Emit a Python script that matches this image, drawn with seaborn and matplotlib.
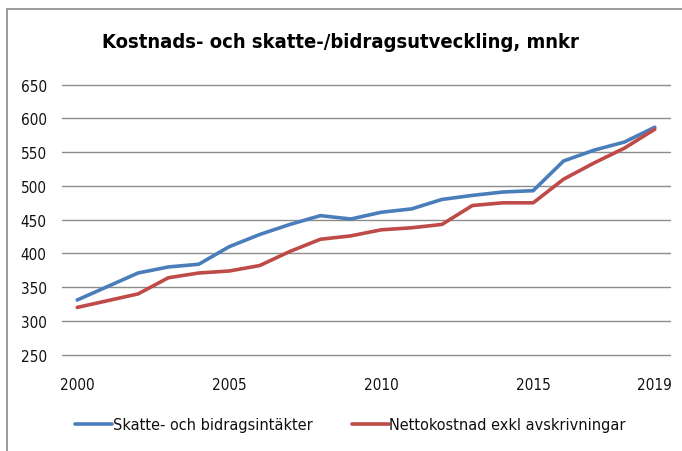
import pandas as pd
import matplotlib.pyplot as plt
import seaborn as sns
from matplotlib.patches import Rectangle

years = list(range(2000, 2020))
skatte = [331, 351, 371, 380, 384, 410, 428, 443, 456, 451,
          461, 466, 480, 486, 491, 493, 537, 553, 565, 587]
netto = [320, 330, 340, 364, 371, 374, 382, 403, 421, 426,
         435, 438, 443, 471, 475, 475, 510, 534, 556, 584]
series_names = ["Skatte- och bidragsintäkter", "Nettokostnad exkl avskrivningar"]
x_ticks = [2000, 2005, 2010, 2015, 2019]
y_ticks = [250, 300, 350, 400, 450, 500, 550, 600, 650]

df = pd.DataFrame({"År": years, series_names[0]: skatte, series_names[1]: netto})
long_df = df.melt(id_vars="År", var_name="Serie", value_name="mnkr")

sns.set_style("white")
plt.rcParams["font.family"] = ["DejaVu Sans"]
plt.rcParams["font.stretch"] = "condensed"

fig = plt.figure(figsize=(6.82, 4.52), dpi=100)
ax = fig.add_axes([0.0909, 0.2131, 0.8915, 0.5973])

palette = {series_names[0]: "#4A7EBB", series_names[1]: "#BE4B48"}
sns.lineplot(data=long_df, x="År", y="mnkr", hue="Serie", palette=palette,
             linewidth=2.6, ax=ax, legend=False)

ax.set_xlim(1999.5, 2019.5)
ax.set_ylim(250, 650)
ax.set_xticks(x_ticks)
ax.set_yticks(y_ticks)
ax.set_xlabel("")
ax.set_ylabel("")
ax.yaxis.grid(True, color="#8c8c8c", linewidth=1.0)
for gl in ax.get_ygridlines():
    gl.set_clip_on(False)
ax.set_axisbelow(True)
for side in ["top", "right", "left", "bottom"]:
    ax.spines[side].set_visible(False)
ax.tick_params(axis="both", length=0, labelsize=11, colors="#111111")
ax.tick_params(axis="y", pad=11)
ax.tick_params(axis="x", pad=16)

fig.text(0.5, 0.907, "Kostnads- och skatte-/bidragsutveckling, mnkr",
         ha="center", va="center", fontsize=14.5, fontweight="bold", color="black")

handles = [plt.Line2D([], [], color=palette[n], linewidth=2.6) for n in series_names]
fig.legend(handles, series_names, loc="center", bbox_to_anchor=(0.514, 0.058),
           ncol=2, frameon=False, fontsize=11.6, handlelength=2.3,
           handletextpad=0.05, columnspacing=2.4, labelcolor="#111111")

fig.patches.append(Rectangle((0.0105, -0.1), 1.2, 1.078, transform=fig.transFigure,
                             fill=False, edgecolor="#8a8a8a", linewidth=1.2))

fig.savefig("out.png", dpi=100)
